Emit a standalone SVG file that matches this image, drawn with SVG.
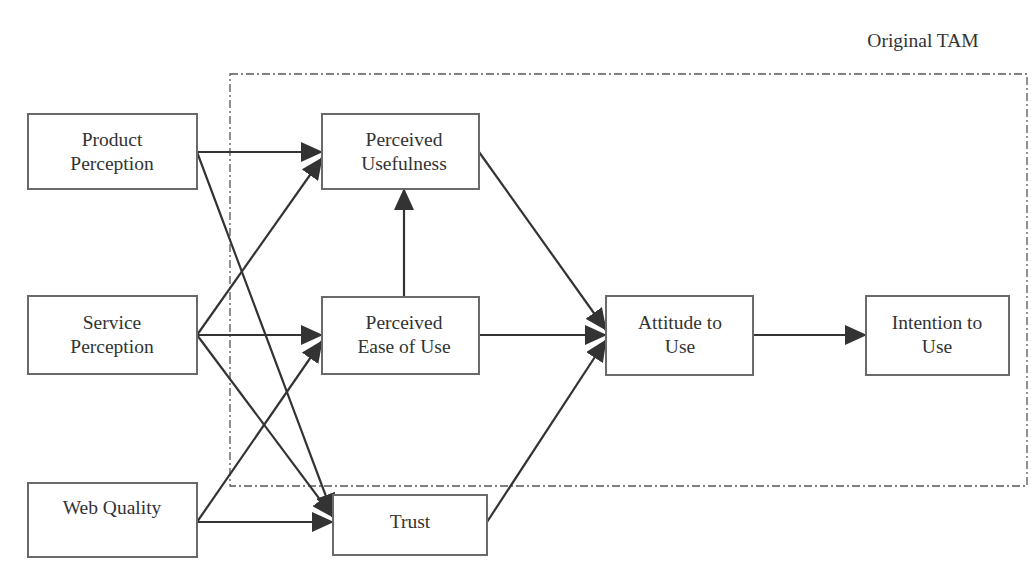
<svg xmlns="http://www.w3.org/2000/svg" width="1034" height="569" viewBox="0 0 1034 569">
<style>
.box{fill:#fff;stroke:#6a6a6a;stroke-width:2}
.t{font-family:"Liberation Serif",serif;font-size:19.5px;fill:#333;text-anchor:middle}
.c{stroke:#333;stroke-width:2.2;fill:none;marker-end:url(#ah)}
</style>
<defs>
<marker id="ah" markerUnits="userSpaceOnUse" markerWidth="24" markerHeight="20" refX="21" refY="10" orient="auto">
<path d="M0,0 L22,10 L0,20 Z" fill="#333"/>
</marker>
</defs>
<rect width="1034" height="569" fill="#fff"/>
<rect x="230" y="74" width="797" height="412" fill="none" stroke="#555" stroke-width="1.3" stroke-dasharray="8,3,2,3"/>
<text class="t" x="923" y="47">Original TAM</text>
<g id="connectors">
<line class="c" x1="197" y1="152" x2="322" y2="152"/>
<line class="c" x1="197" y1="152" x2="333" y2="515"/>
<line class="c" x1="197" y1="335" x2="322" y2="158"/>
<line class="c" x1="197" y1="335" x2="322" y2="335"/>
<line class="c" x1="197" y1="335" x2="333" y2="517"/>
<line class="c" x1="197" y1="522" x2="322" y2="341"/>
<line class="c" x1="197" y1="522" x2="333" y2="522"/>
<line class="c" x1="404" y1="297" x2="404" y2="189"/>
<line class="c" x1="479" y1="152" x2="606" y2="330"/>
<line class="c" x1="479" y1="335" x2="606" y2="335"/>
<line class="c" x1="487" y1="522" x2="606" y2="340"/>
<line class="c" x1="753" y1="335" x2="866" y2="335"/>
</g>
<g id="product-perception"><rect class="box" x="28" y="114" width="169" height="75"/><text class="t" x="112" y="146">Product</text><text class="t" x="112" y="170">Perception</text></g>
<g id="service-perception"><rect class="box" x="28" y="296" width="169" height="78"/><text class="t" x="112" y="329">Service</text><text class="t" x="112" y="353">Perception</text></g>
<g id="web-quality"><rect class="box" x="28" y="483" width="169" height="74"/><text class="t" x="112" y="514">Web Quality</text></g>
<g id="perceived-usefulness"><rect class="box" x="322" y="114" width="157" height="75"/><text class="t" x="404" y="146">Perceived</text><text class="t" x="404" y="170">Usefulness</text></g>
<g id="perceived-ease"><rect class="box" x="322" y="297" width="157" height="77"/><text class="t" x="404" y="329">Perceived</text><text class="t" x="404" y="353">Ease of Use</text></g>
<g id="trust"><rect class="box" x="333" y="495" width="154" height="60"/><text class="t" x="410" y="528">Trust</text></g>
<g id="attitude"><rect class="box" x="606" y="296" width="147" height="79"/><text class="t" x="680" y="329">Attitude to</text><text class="t" x="680" y="353">Use</text></g>
<g id="intention"><rect class="box" x="866" y="296" width="143" height="79"/><text class="t" x="937" y="329">Intention to</text><text class="t" x="937" y="353">Use</text></g>
</svg>
